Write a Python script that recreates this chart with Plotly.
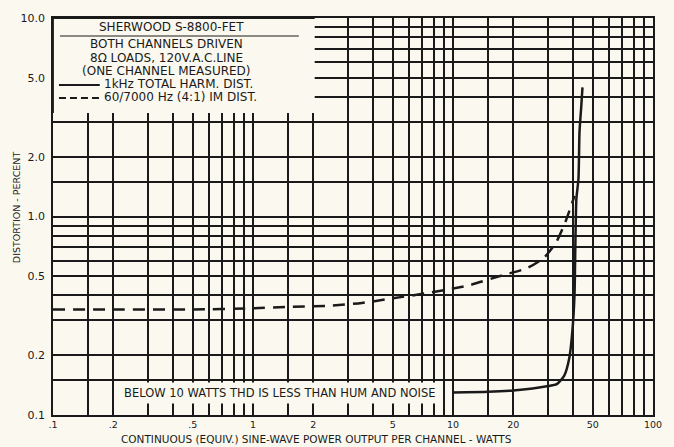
import plotly.graph_objects as go

# ---- data ----
thd_power = [10, 15, 20, 25, 30, 33, 36, 38.2, 39.5, 40.5, 40.9, 41.4, 42.4, 42.9, 43.8, 44.4]
thd_dist = [0.13, 0.131, 0.133, 0.136, 0.14, 0.143, 0.158, 0.195, 0.263, 0.40, 0.71, 1.23, 1.55, 2.66, 3.6, 4.47]

im_power = [0.1, 0.2, 0.5, 1, 1.5, 2.4, 3.5, 5, 7.5, 12, 17, 23.5, 28.5, 33, 36.5, 38.6, 40.5]
im_dist = [0.34, 0.34, 0.34, 0.345, 0.35, 0.355, 0.367, 0.387, 0.412, 0.45, 0.50, 0.55, 0.62, 0.75, 0.94, 1.10, 1.27]

x_grid = [m * d for d in (0.1, 1, 10) for m in (1, 1.5, 2, 3, 4, 5, 6, 7, 8, 9)] + [100]
x_labels = {0.1: ".1", 0.2: ".2", 0.5: ".5", 1: "1", 2: "2", 5: "5", 10: "10", 20: "20", 50: "50", 100: "100"}
y_grid = [m * d for d in (0.1, 1) for m in (1, 1.5, 2, 3, 4, 5, 6, 7, 8, 9)] + [10]
y_labels = {0.1: "0.1", 0.2: "0.2", 0.5: "0.5", 1: "1.0", 2: "2.0", 5: "5.0", 10: "10.0"}

legend_header = ["BOTH CHANNELS DRIVEN", "8Ω LOADS, 120V.A.C.LINE", "(ONE CHANNEL MEASURED)"]
title_text = "SHERWOOD S-8800-FET"
thd_name = "1kHz TOTAL HARM. DIST."
im_name = "60/7000 Hz (4:1) IM DIST."
note_text = "BELOW 10 WATTS THD IS LESS THAN HUM AND NOISE"
x_title = "CONTINUOUS (EQUIV.) SINE-WAVE POWER OUTPUT PER CHANNEL - WATTS"
y_title = "DISTORTION - PERCENT"

BG = "#fbf9ef"
INK = "#1a1a1a"
FONT = "DejaVu Sans"
TOP, BOT = 18, 415

def lbl(d, v):
    for k, t in d.items():
        if abs(k - v) < 1e-9 * max(1, v):
            return t
    return ""

fig = go.Figure()
fig.add_trace(go.Scatter(x=thd_power, y=thd_dist, mode="lines", name=thd_name,
                         line=dict(color=INK, width=2.5, shape="spline", smoothing=0.6)))
fig.add_trace(go.Scatter(x=im_power, y=im_dist, mode="lines", name=im_name,
                         line=dict(color=INK, width=2.5, dash="12px,8px", shape="spline", smoothing=0.6)))

fig.update_layout(
    width=674, height=447,
    margin=dict(l=53, r=18, t=TOP, b=447 - BOT),
    paper_bgcolor=BG, plot_bgcolor=BG,
    showlegend=False,
    font=dict(family=FONT, color=INK, size=11),
)
fig.update_xaxes(type="log", range=[-1, 2], tickvals=x_grid,
                 ticktext=[lbl(x_labels, v) for v in x_grid],
                 showgrid=True, gridcolor=INK, gridwidth=1.5,
                 showline=True, mirror=True, linecolor=INK, linewidth=1.8,
                 ticks="", zeroline=False, tickfont=dict(size=9.5), ticklabelstandoff=0)
fig.update_yaxes(type="log", range=[-1, 1], tickvals=y_grid,
                 ticktext=[lbl(y_labels, v) for v in y_grid],
                 showgrid=True, gridcolor=INK, gridwidth=1.5,
                 showline=True, mirror=True, linecolor=INK, linewidth=1.8,
                 ticks="", zeroline=False, tickfont=dict(size=11), ticklabelstandoff=4)

def px(x):
    return (x - 53) / 603

def py(y):
    return (BOT - y) / (BOT - TOP)

def note(x, y, text, size=12, xanchor="center", **kw):
    fig.add_annotation(xref="paper", yref="paper", x=x, y=y, text=text, showarrow=False,
                       xanchor=xanchor, yanchor="middle",
                       font=dict(size=size, family=FONT, color=INK), **kw)

# legend box
fig.add_shape(type="rect", xref="paper", yref="paper", x0=0, x1=px(316), y0=py(113), y1=1,
              fillcolor=BG, line=dict(width=0), layer="above")
fig.add_shape(type="line", xref="paper", yref="paper", x0=0, x1=0, y0=py(113), y1=1,
              line=dict(color=INK, width=1.8), layer="above")
fig.add_shape(type="line", xref="paper", yref="paper", x0=0, x1=px(316), y0=1, y1=1,
              line=dict(color=INK, width=1.8), layer="above")
note(px(172), py(27), title_text)
fig.add_shape(type="line", xref="paper", yref="paper", x0=px(60), x1=px(300), y0=py(36), y1=py(36),
              line=dict(color=INK, width=1), layer="above")
for i, t in enumerate(legend_header):
    note(px(167), py(44 + 13.5 * i), t)
fig.add_shape(type="line", xref="paper", yref="paper", x0=px(59), x1=px(100), y0=py(85), y1=py(85),
              line=dict(color=INK, width=2), layer="above")
note(px(102), py(84), thd_name, xanchor="left")
fig.add_shape(type="line", xref="paper", yref="paper", x0=px(59), x1=px(100), y0=py(98), y1=py(98),
              line=dict(color=INK, width=2, dash="7px,4px"), layer="above")
note(px(102), py(97), im_name, xanchor="left")

# bottom note
note(px(281), py(393), note_text, size=11.5, bgcolor=BG, borderpad=3)

# axis titles
note(px(318), py(439), x_title, size=10.5)
fig.add_annotation(xref="paper", yref="paper", x=px(16), y=py(207), text=y_title, textangle=-90,
                   showarrow=False, xanchor="center", yanchor="middle",
                   font=dict(size=9.5, family=FONT, color=INK))

fig.write_html("out.html", config={"displayModeBar": False},
               post_script="document.body.style.margin='0px';")
